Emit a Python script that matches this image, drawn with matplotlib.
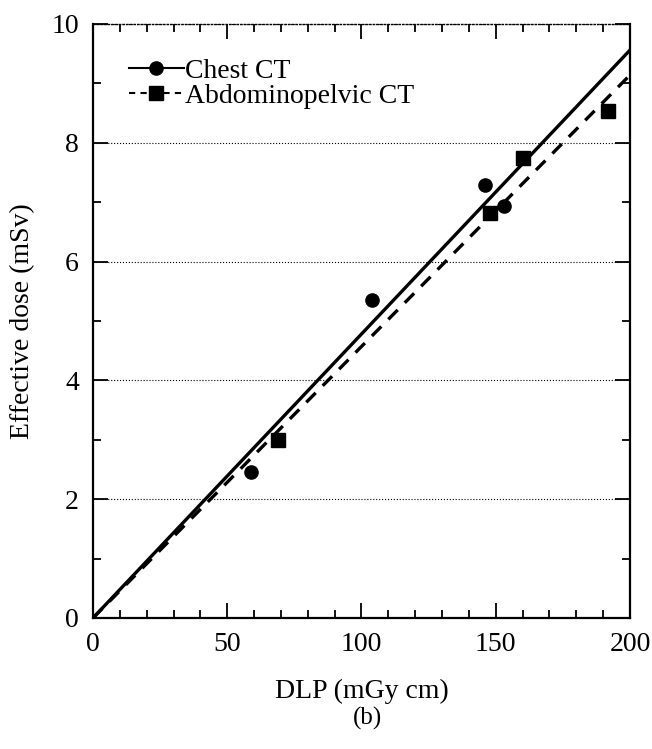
import numpy as np
import matplotlib.pyplot as plt
from matplotlib.ticker import MultipleLocator

plt.rcParams['font.family'] = ['Liberation Serif', 'DejaVu Serif']

# measured points
chest_dlp = [59, 104, 146, 153]
chest_dose = [2.46, 5.35, 7.29, 6.94]
abdo_dlp = [69, 148, 160, 192]
abdo_dose = [3.00, 6.82, 7.74, 8.54]

# fitted conversion factors (mSv per mGy cm)
chest_k = 0.0478
abdo_k = 0.0457

fig = plt.figure(figsize=(6.52, 7.49), dpi=100)
ax = fig.add_axes([0.1426, 0.1749, 0.8236, 0.7931])

xe = np.linspace(0, 200, 50)
ax.plot(xe, chest_k*xe, 'k-', lw=2.4)
ax.plot(xe, abdo_k*xe, 'k--', lw=2.4, dashes=(4, 3))
ax.plot(chest_dlp, chest_dose, 'ko', ms=9.5)
ax.plot(abdo_dlp, abdo_dose, 'ks', ms=9.5)

# legend handles
ax.plot([], [], 'k-o', lw=1.5, ms=9.5, label='Chest CT')
ax.plot([], [], 'k--s', lw=1.5, ms=9.5, dashes=(3, 2.5), label='Abdominopelvic CT')
handles, labels = ax.get_legend_handles_labels()
ax.legend(handles, labels, loc='upper left', frameon=False, fontsize=20,
          handlelength=2.0, handletextpad=0.05, labelspacing=0.0,
          borderaxespad=0.3, bbox_to_anchor=(0.03, 0.975))

ax.set_xlim(0, 200)
ax.set_ylim(0, 10)
ax.xaxis.set_major_locator(MultipleLocator(50))
ax.xaxis.set_minor_locator(MultipleLocator(10))
ax.yaxis.set_major_locator(MultipleLocator(2))
ax.yaxis.set_minor_locator(MultipleLocator(1))
ax.tick_params(which='both', direction='in', top=True, right=True, width=1.3,
               labelsize=20, pad=10)
ax.tick_params(which='major', length=11)
ax.tick_params(which='minor', length=6)
for s in ax.spines.values():
    s.set_linewidth(1.6)
ax.spines['top'].set_linestyle(':')
ax.spines['top'].set_linewidth(1.0)

ax.yaxis.grid(True, which='major', linestyle=':', color='k', lw=0.8)

ax.set_xlabel('DLP (mGy cm)', fontsize=20, labelpad=16)
ax.set_ylabel('Effective dose (mSv)', fontsize=20, labelpad=12)
fig.text(0.563, 0.033, '(b)', ha='center', fontsize=18)

fig.savefig('out.png', dpi=100)
